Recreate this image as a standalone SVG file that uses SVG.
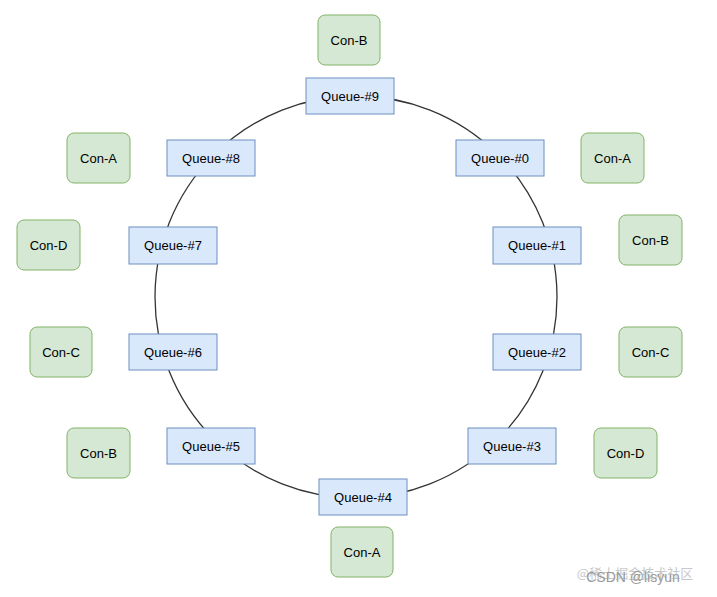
<svg xmlns="http://www.w3.org/2000/svg" width="717" height="597" viewBox="0 0 717 597">
<style>
.q{fill:#dae8fc;stroke:#6c8ebf;stroke-width:1}
.c{fill:#d5e8d4;stroke:#82b366;stroke-width:1}
text{font-family:"Liberation Sans",Arial,sans-serif;font-size:13px;fill:#000;text-anchor:middle;dominant-baseline:central}
</style>
<rect width="717" height="597" fill="#fff"/>
<g id="connectors"><circle cx="356" cy="297" r="201" fill="none" stroke="#333" stroke-width="1.3"/></g>
<g id="q9"><rect class="q" x="306" y="78" width="88" height="36"/><text x="350" y="96">Queue-#9</text></g>
<g id="q0"><rect class="q" x="456" y="140" width="88" height="36"/><text x="500" y="158">Queue-#0</text></g>
<g id="q1"><rect class="q" x="493" y="227" width="88" height="37"/><text x="537" y="245.5">Queue-#1</text></g>
<g id="q2"><rect class="q" x="493" y="334" width="88" height="36"/><text x="537" y="352">Queue-#2</text></g>
<g id="q3"><rect class="q" x="468" y="428" width="88" height="36"/><text x="512" y="446">Queue-#3</text></g>
<g id="q4"><rect class="q" x="319" y="479" width="88" height="36"/><text x="363" y="497">Queue-#4</text></g>
<g id="q5"><rect class="q" x="167" y="428" width="88" height="36"/><text x="211" y="446">Queue-#5</text></g>
<g id="q6"><rect class="q" x="129" y="334" width="88" height="36"/><text x="173" y="352">Queue-#6</text></g>
<g id="q7"><rect class="q" x="129" y="227" width="88" height="37"/><text x="173" y="245.5">Queue-#7</text></g>
<g id="q8"><rect class="q" x="167" y="140" width="88" height="36"/><text x="211" y="158">Queue-#8</text></g>
<g id="cb1"><rect class="c" x="318" y="15" width="62" height="50" rx="7"/><text x="349" y="40">Con-B</text></g>
<g id="ca1"><rect class="c" x="581" y="133" width="63" height="50" rx="7"/><text x="612.5" y="158">Con-A</text></g>
<g id="cb2"><rect class="c" x="619" y="215" width="63" height="50" rx="7"/><text x="650.5" y="240">Con-B</text></g>
<g id="cc1"><rect class="c" x="619" y="327" width="63" height="50" rx="7"/><text x="650.5" y="352">Con-C</text></g>
<g id="cd1"><rect class="c" x="594" y="428" width="63" height="50" rx="7"/><text x="625.5" y="453">Con-D</text></g>
<g id="ca2"><rect class="c" x="331" y="527" width="62" height="50" rx="7"/><text x="362" y="552">Con-A</text></g>
<g id="cb3"><rect class="c" x="67" y="428" width="63" height="50" rx="7"/><text x="98.5" y="453">Con-B</text></g>
<g id="cc2"><rect class="c" x="30" y="327" width="62" height="50" rx="7"/><text x="61" y="352">Con-C</text></g>
<g id="cd2"><rect class="c" x="17" y="220" width="63" height="50" rx="7"/><text x="48.5" y="245">Con-D</text></g>
<g id="ca3"><rect class="c" x="67" y="133" width="63" height="50" rx="7"/><text x="98.5" y="158">Con-A</text></g>
<g id="wm"><text x="635" y="572" style="font-family:'Noto Sans CJK SC',sans-serif;font-size:13px;fill:#c8c8c8">@稀土掘金技术社区</text><text x="633" y="577" style="font-size:14px;fill:#999">CSDN @lisyun</text></g>
</svg>
